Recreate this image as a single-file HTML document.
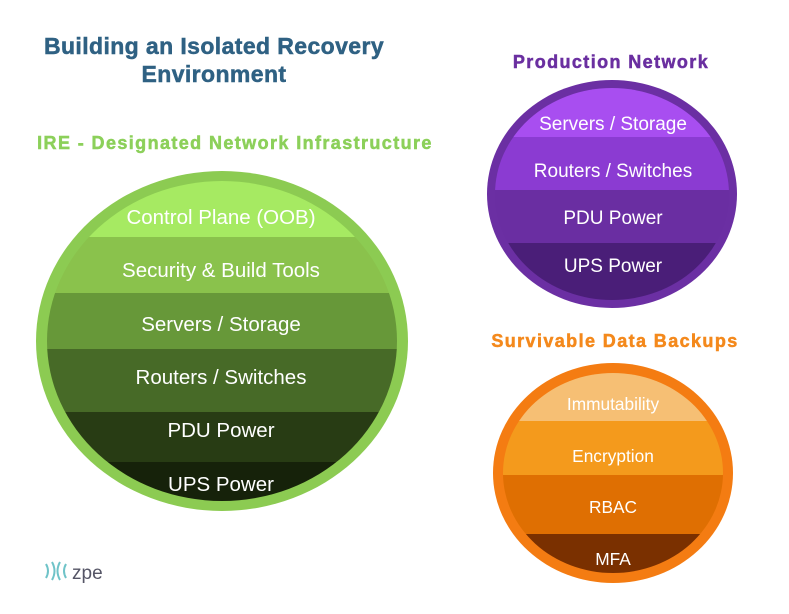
<!DOCTYPE html>
<html><head><style>
body{margin:0;background:#fff;width:789px;height:609px;overflow:hidden}
svg text{font-family:"Liberation Sans",Arial,sans-serif}
</style></head><body>
<svg width="789" height="609" viewBox="0 0 789 609" xmlns="http://www.w3.org/2000/svg">
<defs>
<clipPath id="g"><ellipse cx="222" cy="341" rx="175" ry="160"/></clipPath>
<clipPath id="p"><ellipse cx="612" cy="194" rx="117" ry="106"/></clipPath>
<clipPath id="o"><ellipse cx="613" cy="473" rx="110" ry="100"/></clipPath>
</defs>
<g font-weight="bold" text-anchor="middle" stroke-width="0.5">
<text x="214" y="54" font-size="23" letter-spacing="0.4" fill="#2f6183" stroke="#2f6183">Building an Isolated Recovery</text>
<text x="214" y="82" font-size="23" letter-spacing="0.4" fill="#2f6183" stroke="#2f6183">Environment</text>
<text x="235" y="149" font-size="18" letter-spacing="1.4" fill="#8cd05a" stroke="#8cd05a">IRE - Designated Network Infrastructure</text>
<text x="611" y="68" font-size="18" letter-spacing="1.4" fill="#6a2fa0" stroke="#6a2fa0">Production Network</text>
<text x="615" y="347" font-size="18" letter-spacing="1.4" fill="#f4891c" stroke="#f4891c">Survivable Data Backups</text>
</g>

<ellipse cx="222" cy="341" rx="186" ry="170" fill="#8ccb52"/>
<g clip-path="url(#g)">
<rect x="0" y="170" width="420" height="67" fill="#a6ea62"/>
<rect x="0" y="237" width="420" height="56" fill="#8ac24c"/>
<rect x="0" y="293" width="420" height="56" fill="#679839"/>
<rect x="0" y="349" width="420" height="63" fill="#476a27"/>
<rect x="0" y="412" width="420" height="50" fill="#283c14"/>
<rect x="0" y="462" width="420" height="50" fill="#16220a"/>
</g>
<g fill="#fff" font-size="20.5" text-anchor="middle">
<text x="221" y="224">Control Plane (OOB)</text>
<text x="221" y="277">Security &amp; Build Tools</text>
<text x="221" y="331">Servers / Storage</text>
<text x="221" y="384">Routers / Switches</text>
<text x="221" y="437">PDU Power</text>
<text x="221" y="491">UPS Power</text>
</g>

<ellipse cx="612" cy="194" rx="125" ry="114" fill="#6b2fa3"/>
<g clip-path="url(#p)">
<rect x="480" y="80" width="270" height="57" fill="#a84ef0"/>
<rect x="480" y="137" width="270" height="53" fill="#8b3bd2"/>
<rect x="480" y="190" width="270" height="53" fill="#6a2ea2"/>
<rect x="480" y="243" width="270" height="70" fill="#4a1e78"/>
</g>
<g fill="#fff" font-size="19" text-anchor="middle">
<text x="613" y="130">Servers / Storage</text>
<text x="613" y="177">Routers / Switches</text>
<text x="613" y="224">PDU Power</text>
<text x="613" y="272">UPS Power</text>
</g>

<ellipse cx="613" cy="473" rx="120" ry="110" fill="#f47c12"/>
<g clip-path="url(#o)">
<rect x="480" y="360" width="270" height="61" fill="#f6bf74"/>
<rect x="480" y="421" width="270" height="54" fill="#f49a1c"/>
<rect x="480" y="475" width="270" height="59" fill="#df6f02"/>
<rect x="480" y="534" width="270" height="60" fill="#7a3000"/>
</g>
<g fill="#fff" font-size="17.3" text-anchor="middle">
<text x="613" y="410">Immutability</text>
<text x="613" y="462">Encryption</text>
<text x="613" y="513">RBAC</text>
<text x="613" y="565">MFA</text>
</g>

<g stroke="#6fc3c8" stroke-width="2" fill="none">
<path d="M46 564 q4 7 0 14"/><path d="M52 562 q5 9 0 18"/><path d="M60 562 q-5 9 0 18"/><path d="M66 564 q-4 7 0 14"/>
</g>
<text x="72" y="579" font-size="19" fill="#556">zpe</text>
</svg>
</body></html>
